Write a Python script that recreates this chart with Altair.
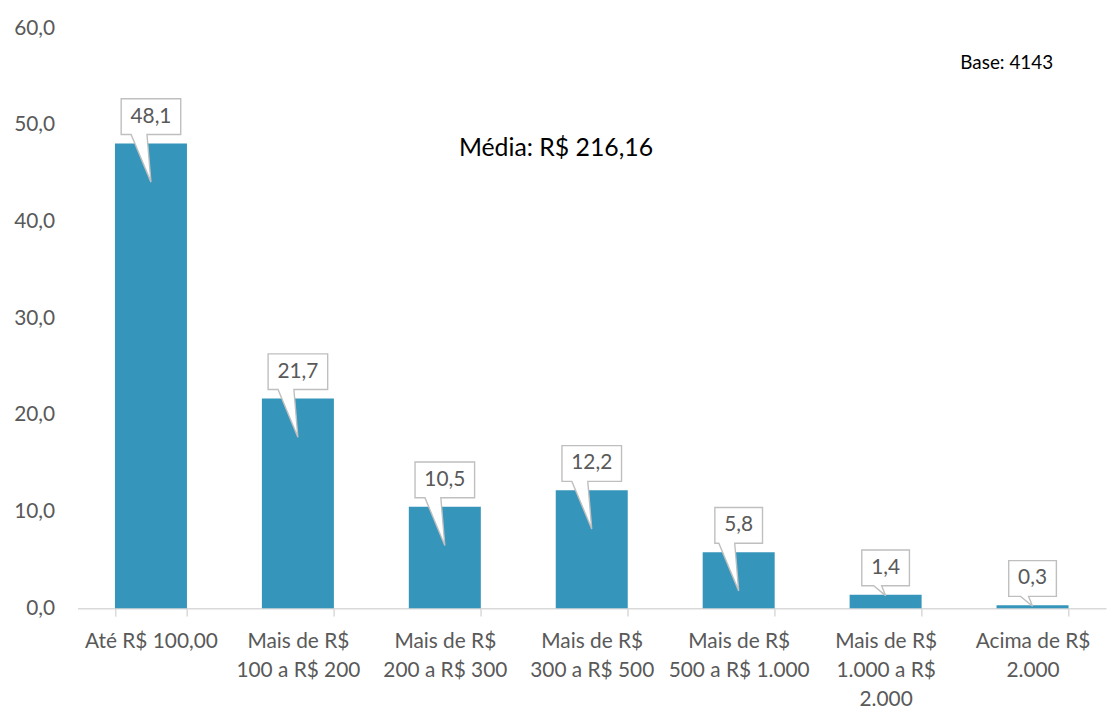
import altair as alt
import pandas as pd

categories = [
    "Até R$ 100,00",
    "Mais de R$|100 a R$ 200",
    "Mais de R$|200 a R$ 300",
    "Mais de R$|300 a R$ 500",
    "Mais de R$|500 a R$ 1.000",
    "Mais de R$|1.000 a R$|2.000",
    "Acima de R$|2.000",
]
values = [48.1, 21.7, 10.5, 12.2, 5.8, 1.4, 0.3]
y_ticks = [0, 10, 20, 30, 40, 50, 60]
mean_text = "Média: R$ 216,16"
base_text = "Base: 4143"

W, H = 1036, 584
YMAX = 60
ppu = H / YMAX
FONT = "Lato"
GREY = "#595959"


def callout_path(label, value):
    w = 30 if len(label) >= 4 else 24
    if value * ppu > 40:
        tip, left = 39, -20
    else:
        tip, left = 1, -12
    return (f"M{-w},-45 L{w},-45 L{w},-9 L-4,-9 L0,{tip} L{left},-9 "
            f"L{-w},-9 Z")


labels = [f"{v:.1f}".replace(".", ",") for v in values]
df = pd.DataFrame({
    "cat": categories,
    "value": values,
    "label": labels,
    "path": [callout_path(l, v) for l, v in zip(labels, values)],
})

xenc = alt.X(
    "cat:N", sort=categories, title=None,
    scale=alt.Scale(paddingInner=0.51, paddingOuter=0.255),
    axis=alt.Axis(
        labelExpr="isValid(datum.value) ? split(datum.value, '|') : ''",
        labelAngle=0,
        labelFont=FONT, labelFontSize=21, labelColor=GREY,
        labelLineHeight=29, labelPadding=15, labelBaseline="top",
        domainColor="#d9d9d9", domainWidth=1.5,
        tickColor="#d9d9d9", tickWidth=1.5, tickSize=8, tickBand="extent",
        labelLimit=300,
    ),
)
yenc = alt.Y(
    "value:Q", title=None,
    scale=alt.Scale(domain=[0, YMAX], nice=False),
    axis=alt.Axis(
        values=y_ticks, grid=False, ticks=False, domain=False,
        labelExpr="replace(format(datum.value, '.1f'), '.', ',')",
        labelFont=FONT, labelFontSize=21, labelColor=GREY, labelPadding=23,
    ),
)

bars = alt.Chart(df).mark_bar(color="#3595ba").encode(x=xenc, y=yenc)

callouts = alt.Chart(df).mark_point(
    filled=True, fill="white", stroke="#bfbfbf", strokeWidth=1.4,
    opacity=1, size=4,
).encode(
    x=alt.X("cat:N", sort=categories),
    y="value:Q",
    shape=alt.Shape("path:N", scale=None, legend=None),
)

texts = alt.Chart(df).mark_text(
    font=FONT, fontSize=21, color=GREY, dy=-27, baseline="middle",
).encode(
    x=alt.X("cat:N", sort=categories),
    y="value:Q",
    text="label:N",
)

mean_df = pd.DataFrame({"t": [mean_text]})
mean_mark = alt.Chart(mean_df).mark_text(
    font=FONT, fontSize=25, color="#000000", align="center", baseline="middle",
).encode(x=alt.value(482), y=alt.value(121), text="t:N")

base_df = pd.DataFrame({"t": [base_text]})
base_mark = alt.Chart(base_df).mark_text(
    font=FONT, fontSize=19, color="#000000", align="center", baseline="middle",
).encode(x=alt.value(936), y=alt.value(35), text="t:N")

chart = alt.layer(bars, callouts, texts, mean_mark, base_mark).properties(
    width=W, height=H,
    autosize=alt.AutoSizeParams(type="none"),
    padding={"left": 70, "top": 18, "right": 1, "bottom": 100},
).configure_view(stroke=None)

chart.save("out.html", embed_options={"renderer": "svg", "actions": False})
